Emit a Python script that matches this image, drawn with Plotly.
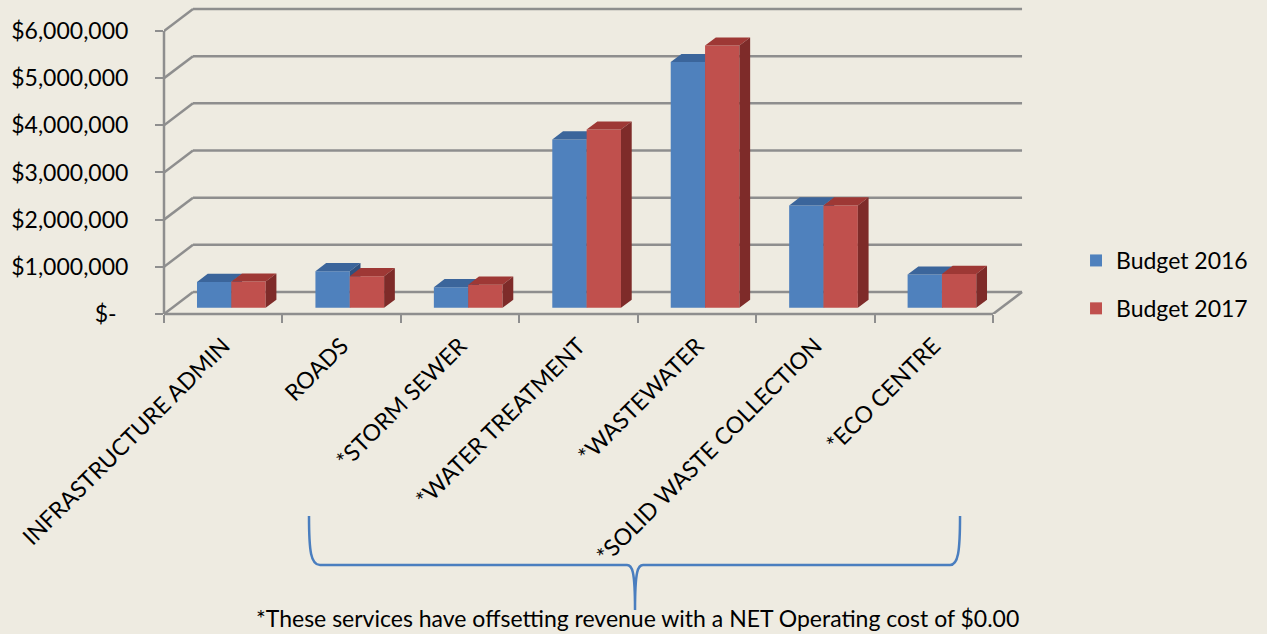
import plotly.graph_objects as go

# ---------------- data ----------------
categories = ["INFRASTRUCTURE ADMIN", "ROADS", "*STORM SEWER", "*WATER TREATMENT",
              "*WASTEWATER", "*SOLID WASTE COLLECTION", "*ECO CENTRE"]
budget_2016 = [550000, 776000, 437000, 3570000, 5210000, 2170000, 706000]
budget_2017 = [556000, 670000, 490000, 3780000, 5560000, 2170000, 720000]
series_names = ["Budget 2016", "Budget 2017"]
y_tick_values = [0, 1000000, 2000000, 3000000, 4000000, 5000000, 6000000]
y_tick_labels = ["$-\u00a0\u00a0", "$1,000,000", "$2,000,000", "$3,000,000",
                 "$4,000,000", "$5,000,000", "$6,000,000"]
footnote = "*These services have offsetting revenue with a NET Operating cost of $0.00"

# ---------------- styling / geometry ----------------
W, H = 1267, 634
FONT = "Lato"
BG = "#EEEBE1"
GRID = "#8E8E8E"
FRONT = ["#4F81BD", "#C0504D"]
TOP = ["#3B659B", "#9E3835"]
SIDE = ["#2E5180", "#7E2B29"]

ORIGIN_X, ORIGIN_Y = 164, 314          # front-bottom-left corner (px)
PX_PER_CAT = 118.43
PX_PER_UNIT = 47.17 / 1e6              # px per dollar
DEPTH_X_PX, DEPTH_Y_PX = 29, 22        # oblique depth offset (px)

n = len(categories)
DX = DEPTH_X_PX / PX_PER_CAT
DY = DEPTH_Y_PX / PX_PER_UNIT
X_MAX = n + DX + 0.025
TOP_PX = 5
Y_MAX = (ORIGIN_Y - TOP_PX) / PX_PER_UNIT
plot_w = X_MAX * PX_PER_CAT
plot_h = ORIGIN_Y - TOP_PX
ML = ORIGIN_X
MR = W - ORIGIN_X - plot_w
MT = TOP_PX
MB = H - ORIGIN_Y

BAR_W = 0.29
D0, D1 = 0.28, 0.65   # depth of bar front / back faces (fraction of floor depth)


def px_to_paper(px, py):
    return (px - ORIGIN_X) / plot_w, (ORIGIN_Y - py) / plot_h


fig = go.Figure()

series = [budget_2016, budget_2017]
for s, vals in enumerate(series):
    xa = "x" if s == 0 else "x2"
    ya = "y" if s == 0 else "y2"
    sign = -1 if s == 0 else 1
    centers = [i + 0.5 + D0 * DX + sign * BAR_W / 2 for i in range(n)]
    base = D0 * DY
    fig.add_trace(go.Bar(
        x=centers, y=vals, base=[base] * n, width=BAR_W,
        marker=dict(color=FRONT[s], line=dict(width=0)),
        name=series_names[s], legendgroup=series_names[s],
        xaxis=xa, yaxis=ya, hoverinfo="skip", showlegend=True))
    ddx = (D1 - D0) * DX
    ddy = (D1 - D0) * DY
    tx, ty, sx, sy = [], [], [], []
    for c, v in zip(centers, vals):
        xl, xr = c - BAR_W / 2, c + BAR_W / 2
        top = base + v
        tx += [xl, xr, xr + ddx, xl + ddx, xl, None]
        ty += [top, top, top + ddy, top + ddy, top, None]
        sx += [xr, xr + ddx, xr + ddx, xr, xr, None]
        sy += [base, base + ddy, top + ddy, top, base, None]
    fig.add_trace(go.Scatter(x=tx, y=ty, fill="toself", fillcolor=TOP[s], mode="lines",
                             line=dict(width=0, color=TOP[s]), xaxis=xa, yaxis=ya,
                             hoverinfo="skip", showlegend=False))
    fig.add_trace(go.Scatter(x=sx, y=sy, fill="toself", fillcolor=SIDE[s], mode="lines",
                             line=dict(width=0, color=SIDE[s]), xaxis=xa, yaxis=ya,
                             hoverinfo="skip", showlegend=False))

shapes = []
lw = 2.5
for v in y_tick_values:
    shapes.append(dict(type="line", xref="x", yref="y", x0=0, y0=v, x1=DX, y1=v + DY,
                       line=dict(color=GRID, width=lw), layer="below"))
    shapes.append(dict(type="line", xref="x", yref="y", x0=DX, y0=v + DY, x1=n + DX, y1=v + DY,
                       line=dict(color=GRID, width=lw), layer="below"))
# front floor edge and right floor edge
shapes.append(dict(type="line", xref="x", yref="paper", x0=0, y0=0, x1=n, y1=0,
                   line=dict(color=GRID, width=lw), layer="below"))
shapes.append(dict(type="line", xref="x", yref="y", x0=n, y0=0, x1=n + DX, y1=DY,
                   line=dict(color=GRID, width=lw), layer="below"))
# front value axis line
shapes.append(dict(type="line", xref="paper", yref="y", x0=0, y0=0, x1=0, y1=y_tick_values[-1],
                   line=dict(color=GRID, width=lw), layer="below"))

# curly brace under the offsetting-revenue services
brace_px = [("M", 309, 516), ("C", 309, 552, 311, 565, 320, 565), ("L", 627, 565),
            ("C", 632, 565, 635, 570, 635, 610), ("C", 635, 570, 638, 565, 643, 565),
            ("L", 950, 565), ("C", 958, 565, 960, 552, 960, 516)]
parts = []
for cmd in brace_px:
    nums = cmd[1:]
    pts = []
    for k in range(0, len(nums), 2):
        xp, yp = px_to_paper(nums[k], nums[k + 1])
        pts.append(f"{xp:.5f},{yp:.5f}")
    parts.append(cmd[0] + " ".join(pts))
shapes.append(dict(type="path", xref="paper", yref="paper", path=" ".join(parts),
                   line=dict(color="#4A7EBF", width=2.5)))

fx, fy = px_to_paper(637, 618)
lx, ly = px_to_paper(1076, 239)

fig.update_layout(
    width=W, height=H,
    margin=dict(l=ML, r=MR, t=MT, b=MB, pad=0),
    paper_bgcolor=BG, plot_bgcolor=BG,
    font=dict(family=FONT, size=23, color="#000000"),
    barmode="overlay",
    shapes=shapes,
    showlegend=True,
    legend=dict(x=lx, y=ly, xanchor="left", yanchor="top", bgcolor="rgba(0,0,0,0)",
                font=dict(family=FONT, size=23, color="#000000"), tracegroupgap=15,
                itemwidth=30),
    annotations=[dict(text=footnote, xref="paper", yref="paper", x=fx, y=fy,
                      xanchor="center", yanchor="middle", showarrow=False,
                      font=dict(family=FONT, size=23, color="#000000"))],
    xaxis=dict(range=[0, X_MAX], showgrid=False, zeroline=False, showline=False,
               tickvals=list(range(n + 1)), ticktext=[""] * (n + 1),
               ticks="outside", ticklen=8, tickwidth=2, tickcolor=GRID, fixedrange=True),
    xaxis2=dict(range=[0, X_MAX], overlaying="x", anchor="y2", side="bottom",
                showgrid=False, zeroline=False, showline=False,
                tickvals=[i + 0.5 for i in range(n)], ticktext=categories,
                tickangle=-45, ticks="", ticklabelstandoff=13,
                tickfont=dict(family=FONT, size=23, color="#000000")),
    yaxis=dict(range=[0, Y_MAX], showgrid=False, zeroline=False, showline=False,
               tickvals=y_tick_values, ticktext=y_tick_labels,
               ticks="outside", ticklen=8, tickwidth=2, tickcolor=GRID,
               ticklabelstandoff=22,
               tickfont=dict(family=FONT, size=23, color="#000000")),
    yaxis2=dict(range=[0, Y_MAX], overlaying="y", visible=False),
)

fig.write_html("out.html", config={"displayModeBar": False},
               post_script="document.body.style.margin='0';document.body.style.overflow='hidden';")
